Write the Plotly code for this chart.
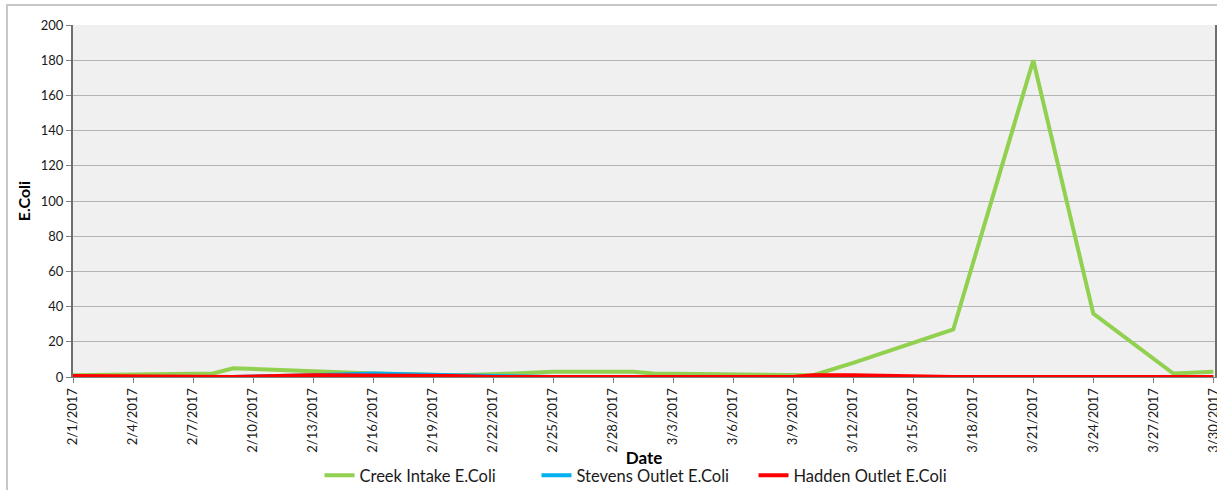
import plotly.graph_objects as go

# Sample dates and E.Coli readings per sampling point
dates = ["2017-02-01", "2017-02-08", "2017-02-09", "2017-02-13", "2017-02-16",
         "2017-02-20", "2017-02-22", "2017-02-25", "2017-03-01", "2017-03-02",
         "2017-03-09", "2017-03-10", "2017-03-12", "2017-03-17", "2017-03-21",
         "2017-03-24", "2017-03-28", "2017-03-30"]
creek_intake = [1, 2, 5, 3, 2, 1, 1.5, 3, 3, 2, 1, 1, 8, 27, 180, 36, 2, 3]
stevens_outlet = [0, 0, 0, 1, 2, 1, 0.5, 0, 0, 0, 0, 0, 0, 0, 0, 0, 0, 0]
hadden_outlet = [0.5, 0, 0, 1, 1, 0.5, 0, 0, 0, 0, 0, 1, 1, 0, 0, 0, 0, 0]

series_names = ["Creek Intake E.Coli", "Stevens Outlet E.Coli", "Hadden Outlet E.Coli"]
series_colors = ["#92d050", "#00b0f0", "#ff0000"]

font_family = "Lato, 'Open Sans', sans-serif"

fig = go.Figure()
for name, vals, color in zip(series_names,
                             [creek_intake, stevens_outlet, hadden_outlet],
                             series_colors):
    fig.add_trace(go.Scatter(
        x=dates, y=vals, name=name, mode="lines",
        line=dict(color=color, width=4),
    ))

# plot area: x 73..1215, y 25..377
plot_h = 490 - 25 - 113
plot_w = 1217 - 73 - 2

fig.update_layout(
    width=1217, height=490,
    margin=dict(l=73, r=2, t=25, b=113, autoexpand=False),
    paper_bgcolor="white",
    plot_bgcolor="#f0f0f0",
    font=dict(family=font_family, color="#1a1a1a", size=13),
    showlegend=True,
    legend=dict(
        orientation="h", x=(645 - 73) / plot_w, xanchor="center",
        y=-(458 - 377) / plot_h, yanchor="top",
        font=dict(size=16.5, color="#1a1a1a"),
        itemwidth=30, tracegroupgap=0, entrywidth=172,
    ),
    shapes=[dict(
        type="rect", xref="paper", yref="paper",
        x0=(7 - 73) / plot_w, x1=(1240 - 73) / plot_w,
        y0=-(520 - 377) / plot_h, y1=(377 - 5) / plot_h,
        line=dict(color="#c8c8c8", width=2), fillcolor="rgba(0,0,0,0)",
        layer="below",
    )],
)

fig.update_xaxes(
    type="date", automargin=False,
    range=["2017-02-01", "2017-03-30 02:00"],
    tick0="2017-02-01", dtick=3 * 86400000,
    tickformat="%-m/%-d/%Y", tickangle=-90,
    ticklabeloverflow="allow",
    ticks="outside", ticklen=5, tickcolor="#808080",
    tickfont=dict(size=13, color="#1a1a1a"),
    showgrid=False, showline=True, linecolor="#808080", linewidth=1,
    mirror=False,
    title=dict(text="<b>Date</b>", font=dict(size=17, color="#000000"), standoff=0),
)
fig.update_yaxes(
    range=[0, 200], dtick=20, automargin=False,
    ticks="outside", ticklen=5, tickcolor="#808080",
    tickfont=dict(size=13, color="#1a1a1a"),
    showgrid=True, gridcolor="#b4b4b4", gridwidth=1,
    zeroline=False,
    showline=True, linecolor="#6e6e6e", linewidth=2, mirror=True,
    title=dict(text="<b>E.Coli</b>", font=dict(size=16, color="#000000"), standoff=6),
)

fig.write_html("out.html")
